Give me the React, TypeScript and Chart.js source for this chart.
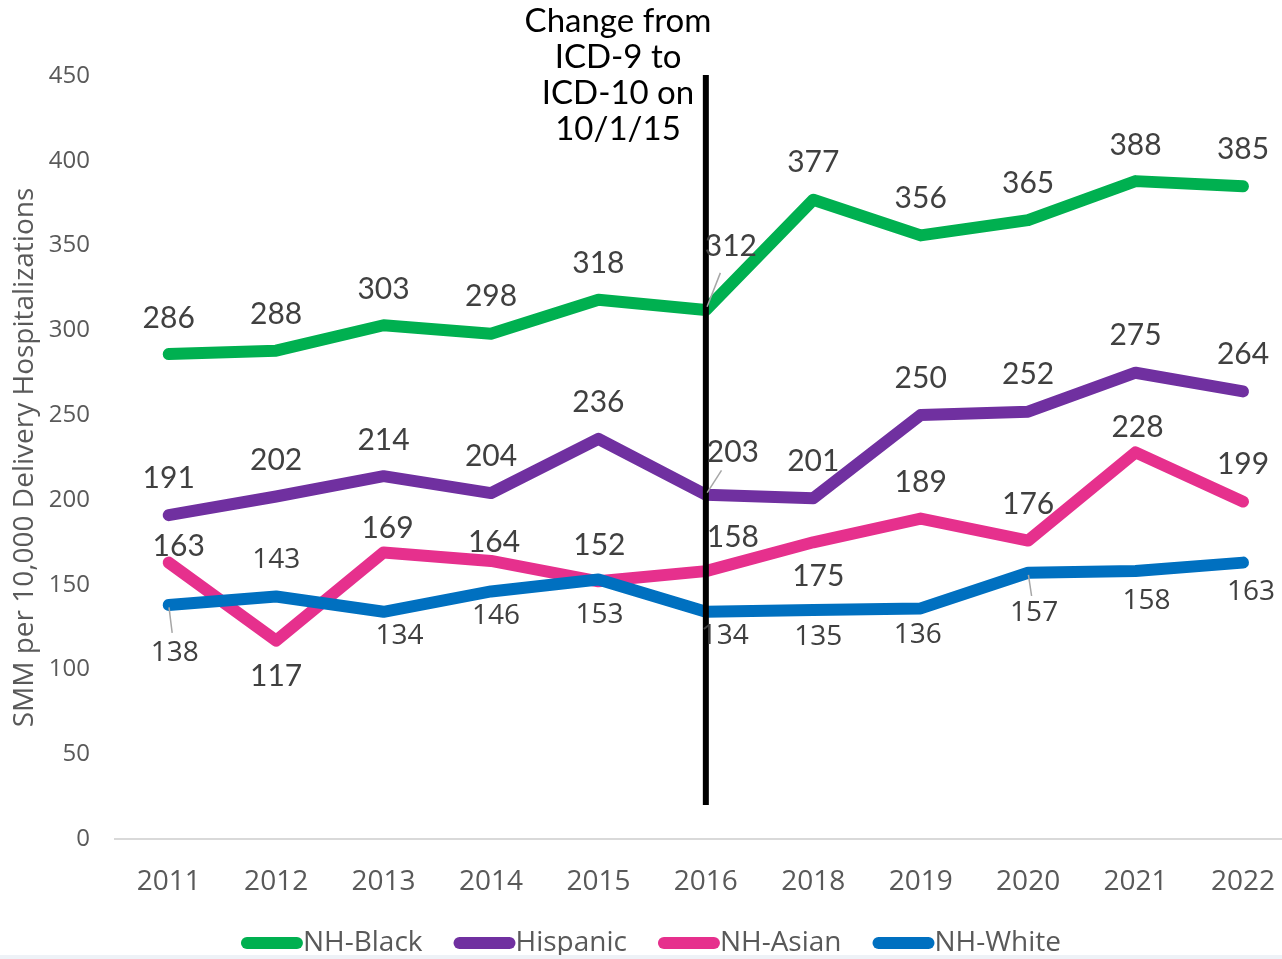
import React, { useEffect, useRef } from "react";
import { Chart, registerables } from "chart.js";
Chart.register(...registerables);

const years = ["2011", "2012", "2013", "2014", "2015", "2016", "2018", "2019", "2020", "2021", "2022"];
const nhBlack = [286, 288, 303, 298, 318, 312, 377, 356, 365, 388, 385];
const hispanic = [191, 202, 214, 204, 236, 203, 201, 250, 252, 275, 264];
const nhAsian = [163, 117, 169, 164, 152, 158, 175, 189, 176, 228, 199];
const nhWhite = [138, 143, 134, 146, 153, 134, 135, 136, 157, 158, 163];
const seriesNames = ["NH-Black", "Hispanic", "NH-Asian", "NH-White"];
const seriesColors = ["#00B050", "#7030A0", "#E6308D", "#0070C0"];
const yMin = 0;
const yMax = 450;
const yStep = 50;
const annotationLines = ["Change from", "ICD-9 to", "ICD-10 on", "10/1/15"];
const changeIndex = 5; // 2016
const changeLineBottomValue = 20;

// label placement (style): pixel offsets from each point
const blackLabelDx = [0, 0, 0, 0, 0, 25, 0, 0, 0, 0, 0];
const blackLabelDy = [-36, -36, -36, -37, -36, -64, -37, -37, -37, -36, -37];
const hispLabelDx = [0, 0, 0, 0, 0, 27, 0, 0, 0, 0, 0];
const hispLabelDy = [-37, -36, -36, -37, -37, -42, -37, -37, -37, -37, -37];
const asianLabelDx = [10, 0, 4, 3, 1, 27, 5, 0, 0, 2, 0];
const asianLabelDy = [-16, 36, -24, -19, -36, -34, 34, -36, -36, -25, -37];
const whiteLabelDx = [6, 0, 16, 5, 1, 19, 5, -3, 6, 11, 8];
const whiteLabelDy = [48, -37, 24, 25, 35, 24, 27, 27, 40, 30, 29];
const leaderLines = [
  [0, 5],
  [1, 5],
  [3, 0],
  [3, 8],
];

const labelDx = [blackLabelDx, hispLabelDx, asianLabelDx, whiteLabelDx];
const labelDy = [blackLabelDy, hispLabelDy, asianLabelDy, whiteLabelDy];

const overlayPlugin = {
  id: "overlay",
  afterDatasetsDraw(chart: any) {
    const ctx = chart.ctx;
    const xs = chart.scales.x;
    const ys = chart.scales.y;
    // vertical change line
    const vx = xs.getPixelForValue(changeIndex);
    ctx.save();
    ctx.strokeStyle = "#000000";
    ctx.lineWidth = 6;
    ctx.beginPath();
    ctx.moveTo(vx, ys.getPixelForValue(yMax) - 1);
    ctx.lineTo(vx, ys.getPixelForValue(changeLineBottomValue));
    ctx.stroke();

    // leader lines
    ctx.strokeStyle = "#A6A6A6";
    ctx.lineWidth = 1.5;
    leaderLines.forEach(([s, i]) => {
      const meta = chart.getDatasetMeta(s);
      const p = meta.data[i];
      const lx = p.x + labelDx[s][i];
      const ly = p.y + labelDy[s][i];
      ctx.beginPath();
      ctx.moveTo(p.x + (lx - p.x) * 0.05, p.y + (ly - p.y) * 0.05);
      ctx.lineTo(p.x + (lx - p.x) * 0.58, p.y + (ly - p.y) * 0.58);
      ctx.stroke();
    });

    // data labels
    ctx.textAlign = "center";
    ctx.textBaseline = "middle";
    chart.data.datasets.forEach((ds: any, s: number) => {
      const meta = chart.getDatasetMeta(s);
      ctx.font = s === 3 ? "28px 'Open Sans'" : "30px Lato";
      ctx.fillStyle = "#404040";
      ds.data.forEach((v: number, i: number) => {
        const p = meta.data[i];
        ctx.fillText(String(v), p.x + labelDx[s][i], p.y + labelDy[s][i]);
      });
    });

    // annotation text
    ctx.fillStyle = "#000000";
    ctx.font = "33px Lato";
    const ax = 618;
    annotationLines.forEach((t, k) => {
      ctx.fillText(t, ax, 21 + k * 36);
    });
    ctx.restore();
  },
  afterDraw(chart: any) {
    const ctx = chart.ctx;
    ctx.save();
    ctx.font = "28px 'Open Sans'";
    const symW = 62;
    const gap = 31;
    const widths = seriesNames.map((n) => ctx.measureText(n).width);
    const total = widths.reduce((a, b) => a + b, 0) + symW * seriesNames.length + gap * (seriesNames.length - 1);
    let x = 651 - total / 2;
    const y = 943;
    ctx.textBaseline = "middle";
    ctx.textAlign = "left";
    seriesNames.forEach((n, k) => {
      ctx.strokeStyle = seriesColors[k];
      ctx.lineWidth = 12;
      ctx.lineCap = "round";
      ctx.beginPath();
      ctx.moveTo(x + 6, y);
      ctx.lineTo(x + symW - 6, y);
      ctx.stroke();
      ctx.fillStyle = "#595959";
      ctx.fillText(n, x + symW, y);
      x += symW + widths[k] + gap;
    });
    ctx.restore();
  },
};

export default function App() {
  const ref = useRef<HTMLCanvasElement | null>(null);
  useEffect(() => {
    if (!ref.current) return;
    const seriesData = [nhBlack, hispanic, nhAsian, nhWhite];
    const chart = new Chart(ref.current, {
      type: "line",
      data: {
        labels: years,
        datasets: seriesData.map((d, k) => ({
          label: seriesNames[k],
          data: d,
          borderColor: seriesColors[k],
          backgroundColor: seriesColors[k],
          borderWidth: 12,
          pointRadius: 0,
          tension: 0,
          borderJoinStyle: "round" as const,
          borderCapStyle: "round" as const,
          order: 3 - k,
        })),
      },
      options: {
        responsive: false,
        animation: false,
        devicePixelRatio: 1,
        layout: { padding: { top: 76, bottom: 60, left: 0, right: 0 } },
        plugins: { legend: { display: false }, tooltip: { enabled: false } },
        scales: {
          x: {
            offset: true,
            grid: { display: false, drawTicks: false },
            border: { display: true, color: "#D9D9D9", width: 2 },
            ticks: { color: "#595959", font: { family: "'Open Sans'", size: 28 }, padding: 26, maxRotation: 0, autoSkip: false },
            afterFit(scale: any) {
              scale.height = 60;
            },
          },
          y: {
            min: yMin,
            max: yMax,
            grid: { display: false, drawTicks: false },
            border: { display: false },
            ticks: { stepSize: yStep, color: "#595959", font: { family: "'Open Sans'", size: 24 }, padding: 25 },
            title: {
              display: true,
              text: "SMM per 10,000 Delivery Hospitalizations",
              color: "#595959",
              font: { family: "'Open Sans'", size: 28 },
              padding: { top: 8, bottom: 0 },
            },
            afterFit(scale: any) {
              scale.width = 115;
            },
          },
        },
      },
      plugins: [overlayPlugin],
    });
    return () => chart.destroy();
  }, []);
  return (
    <div style={{ position: "fixed", left: 0, top: 0, width: 1282, height: 959, overflow: "hidden", background: "#fff" }}>
      <canvas ref={ref} width={1301} height={959} style={{ width: 1301, height: 959, display: "block" }} />
      <div style={{ position: "absolute", left: 0, bottom: 0, width: 1282, height: 4, background: "#EEF2F7" }} />
    </div>
  );
}
